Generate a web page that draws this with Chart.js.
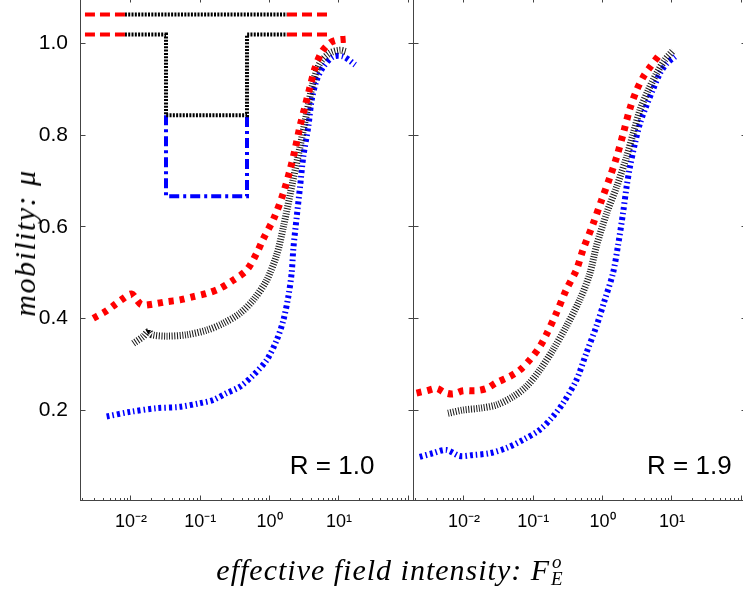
<!DOCTYPE html>
<html>
<head>
<meta charset="utf-8">
<script src="https://cdn.jsdelivr.net/npm/chart.js@4.4.1/dist/chart.umd.min.js"></script>
<style>
  html, body { margin: 0; padding: 0; background: #fff; }
  body { position: relative; width: 743px; height: 592px; overflow: hidden; }
  canvas { position: absolute; left: 0; top: -20px; }
  .xtitle { position: absolute; left: 0; width: 780px; top: 552px; line-height: 36px; text-align: center;
            font-family: 'Liberation Serif', 'DejaVu Serif', serif; font-style: italic; font-size: 30px;
            letter-spacing: 1px; white-space: nowrap; }
  .ss { display: inline-flex; flex-direction: column; font-size: 19px; line-height: 17px; vertical-align: 12px; margin-left: 1px; }
  .ytitle { position: absolute; left: 25px; top: 243px; transform: translate(-50%, -50%) rotate(-90deg);
            font-family: 'Liberation Serif', 'DejaVu Serif', serif; font-style: italic; font-size: 30px;
            letter-spacing: 1.5px; white-space: nowrap; }
</style>
</head>
<body>
<canvas id="left" width="760" height="612"></canvas>
<canvas id="right" width="760" height="612"></canvas>
<div class="ytitle">mobility: μ</div>
<div class="xtitle">effective field intensity: F<span class="ss"><span>o</span><span>E</span></span></div>
<script>
// axis ticks
const muTicks = [0.2, 0.4, 0.6, 0.8, 1.0];
const fTicks = [0.01, 0.1, 1, 10];
const fTickText = ['10⁻²', '10⁻¹', '10⁰', '10¹'];

// R = 1.0
const r10RedF = [0.00286, 0.00422, 0.00556, 0.00775, 0.0102, 0.0121, 0.0143, 0.021, 0.0327, 0.0509, 0.0793, 0.124, 0.192, 0.299, 0.467, 0.652, 0.811, 1.17, 1.58, 1.97, 2.32, 2.75, 3.24, 3.83, 4.52, 5.65, 7.45, 9.4, 12.9];
const r10RedMu = [0.401, 0.415, 0.428, 0.444, 0.454, 0.441, 0.430, 0.432, 0.437, 0.441, 0.448, 0.455, 0.466, 0.484, 0.506, 0.543, 0.574, 0.621, 0.674, 0.724, 0.768, 0.820, 0.862, 0.905, 0.946, 0.981, 1.001, 1.007, 1.009];
const r10BlackF = [0.0108, 0.0150, 0.0178, 0.0199, 0.0327, 0.0637, 0.124, 0.215, 0.374, 0.582, 0.908, 1.27, 1.58, 2.18, 2.75, 3.43, 4.23, 5.33, 7.45, 10.4, 12.9];
const r10BlackMu = [0.346, 0.361, 0.372, 0.365, 0.362, 0.365, 0.375, 0.390, 0.412, 0.441, 0.484, 0.540, 0.600, 0.702, 0.775, 0.848, 0.914, 0.957, 0.979, 0.985, 0.982];
const r10BlueF = [0.00446, 0.00969, 0.0235, 0.0509, 0.0991, 0.154, 0.240, 0.374, 0.582, 0.908, 1.27, 1.58, 1.86, 2.08, 2.20, 2.46, 2.75, 3.06, 3.61, 4.05, 4.78, 5.96, 8.3, 11.6, 17.1];
const r10BlueMu = [0.187, 0.197, 0.205, 0.208, 0.216, 0.223, 0.238, 0.252, 0.277, 0.310, 0.354, 0.397, 0.448, 0.500, 0.553, 0.622, 0.688, 0.753, 0.818, 0.877, 0.920, 0.949, 0.971, 0.971, 0.953];

// R = 1.9
const r19RedF = [0.00207, 0.0029, 0.00404, 0.00526, 0.00693, 0.00969, 0.0150, 0.0212, 0.0296, 0.0456, 0.0637, 0.0887, 0.124, 0.154, 0.215, 0.299, 0.418, 0.521, 0.735, 0.970, 1.28, 1.60, 1.99, 2.48, 3.10, 3.87, 4.83, 6.74];
const r19RedMu = [0.238, 0.243, 0.248, 0.239, 0.236, 0.243, 0.243, 0.248, 0.261, 0.274, 0.288, 0.310, 0.339, 0.365, 0.412, 0.463, 0.506, 0.550, 0.608, 0.659, 0.709, 0.753, 0.804, 0.858, 0.898, 0.927, 0.948, 0.977];
const r19BlackF = [0.00588, 0.00969, 0.0169, 0.0293, 0.0509, 0.0793, 0.124, 0.192, 0.299, 0.467, 0.650, 0.820, 1.145, 1.60, 2.22, 2.77, 3.47, 4.56, 6.04, 7.94, 10.5];
const r19BlackMu = [0.194, 0.201, 0.205, 0.212, 0.230, 0.252, 0.288, 0.332, 0.383, 0.441, 0.497, 0.560, 0.630, 0.688, 0.753, 0.804, 0.855, 0.898, 0.935, 0.964, 0.985];
const r19BlueF = [0.00230, 0.00357, 0.00556, 0.00867, 0.0135, 0.0235, 0.0407, 0.0710, 0.124, 0.192, 0.269, 0.418, 0.582, 0.811, 1.074, 1.41, 1.67, 1.97, 2.22, 2.48, 2.93, 3.47, 4.23, 5.28, 6.74, 8.41, 11.1];
const r19BlueMu = [0.099, 0.107, 0.114, 0.101, 0.103, 0.107, 0.118, 0.136, 0.158, 0.187, 0.216, 0.266, 0.325, 0.383, 0.441, 0.499, 0.560, 0.630, 0.688, 0.731, 0.782, 0.826, 0.862, 0.898, 0.935, 0.956, 0.971];

// key drawn in the top-left corner of the R = 1.0 panel
const keyF = [0.00217, 0.00818, 0.0320, 0.472, 1.78, 6.97];
const keyMu = [1.063, 1.019, 0.843, 0.667];

const pts = (xs, ys) => xs.map((x, i) => ({ x, y: ys[i] }));

const redCurve = { borderColor: '#ff0000', borderWidth: 7, borderDash: [5, 6] };
const blackCurve = { borderColor: '#1a1a1a', borderWidth: 7, borderDash: [1, 1.6] };
const blueCurve = { borderColor: '#0000ff', borderWidth: 6, borderDash: [3, 3, 1.5, 3] };
const redKey = { borderColor: '#ff0000', borderWidth: 4, borderDash: [10, 5] };
const blackKey = { borderColor: '#000000', borderWidth: 4, borderDash: [2, 1.3] };
const blueKey = { borderColor: '#0000ff', borderWidth: 4, borderDash: [10, 4, 3, 4] };

function curve(xs, ys, style) {
  return Object.assign({ data: pts(xs, ys), tension: 0.3, pointRadius: 0, fill: false }, style);
}
function path(xs, ys, style) {
  return Object.assign({ data: pts(xs, ys), tension: 0, pointRadius: 0, fill: false }, style);
}

const [k0, k1, k2, k3, k4, k5] = keyF;
const [muTop, muMid, muStep, muLow] = keyMu;
const keySets = [
  path([k0, k1], [muTop, muTop], redKey),
  path([k4, k5], [muTop, muTop], redKey),
  path([k0, k1], [muMid, muMid], redKey),
  path([k4, k5], [muMid, muMid], redKey),
  path([k1, k4], [muTop, muTop], blackKey),
  path([k1, k2, k2, k3, k3, k4], [muMid, muMid, muStep, muStep, muMid, muMid], blackKey),
  path([k2, k2, k3, k3], [muStep, muLow, muLow, muStep], blueKey)
];

// small marker on the kink of the black R = 1.0 curve
const r10Black = curve(r10BlackF, r10BlackMu, blackCurve);
r10Black.pointRadius = r10BlackF.map((f, i) => (i === 2 ? 3 : 0));
r10Black.pointStyle = 'triangle';
r10Black.rotation = 180;
r10Black.pointBackgroundColor = '#000';
r10Black.pointBorderWidth = 0;

// frame, inward ticks and the R label
const frame = {
  id: 'frame',
  afterDraw(chart, args, opts) {
    const { ctx, chartArea: a, scales: { x, y } } = chart;
    const L = Math.floor(a.left) + 0.5, R = Math.floor(a.right) + 0.5;
    const T = Math.floor(a.top) + 0.5, B = Math.floor(a.bottom) + 0.5;
    ctx.save();
    ctx.strokeStyle = '#444';
    ctx.lineWidth = 1;
    ctx.strokeRect(L, T, R - L, B - T);
    ctx.beginPath();
    for (let e = -3; e <= 2; e++) {
      for (let m = 1; m < 10; m++) {
        const v = m * Math.pow(10, e);
        if (v < x.min || v > x.max) continue;
        const px = Math.floor(x.getPixelForValue(v)) + 0.5;
        const len = m === 1 ? 5 : 2.5;
        ctx.moveTo(px, B); ctx.lineTo(px, B - len);
        ctx.moveTo(px, T); ctx.lineTo(px, T + len);
      }
    }
    for (const v of muTicks) {
      const py = Math.floor(y.getPixelForValue(v)) + 0.5;
      ctx.moveTo(L, py); ctx.lineTo(L + 5, py);
      ctx.moveTo(R, py); ctx.lineTo(R - 5, py);
    }
    ctx.stroke();
    ctx.fillStyle = '#000';
    ctx.font = '26px "Liberation Sans"';
    ctx.textBaseline = 'alphabetic';
    ctx.fillText(opts.label, a.left + opts.at * (a.right - a.left), a.bottom - 26);
    ctx.restore();
  }
};

function panel(id, datasets, label, at, showMu) {
  new Chart(document.getElementById(id), {
    type: 'line',
    data: { datasets },
    options: {
      responsive: false,
      animation: false,
      events: [],
      layout: { padding: showMu ? { left: 0, right: 347, top: 17.4, bottom: 0 } : { left: 413, right: 14, top: 17.4, bottom: 0 } },
      plugins: { legend: { display: false }, tooltip: { enabled: false }, frame: { label, at } },
      scales: {
        x: {
          type: 'logarithmic', min: 0.00184, max: 117,
          grid: { display: false }, border: { display: false },
          afterBuildTicks: s => { s.ticks = fTicks.map(value => ({ value })); },
          afterFit: s => { s.height = 92; },
          ticks: {
            autoSkip: false, maxRotation: 0, padding: 3, color: '#000',
            font: { family: 'Liberation Sans', size: 18 },
            callback: v => fTickText[Math.round(Math.log10(v)) + 2]
          }
        },
        y: {
          type: 'linear', min: 0.005, max: 1.1, display: showMu,
          grid: { display: false }, border: { display: false },
          afterBuildTicks: s => { s.ticks = muTicks.map(value => ({ value })); },
          afterFit: s => { s.width = showMu ? 80 : 0; },
          ticks: { padding: 4, color: '#000', font: { family: 'Liberation Sans', size: 21 }, callback: v => v.toFixed(1) }
        }
      }
    },
    plugins: [frame]
  });
}

panel('left', [
  curve(r10RedF, r10RedMu, redCurve),
  r10Black,
  curve(r10BlueF, r10BlueMu, blueCurve),
  ...keySets
], 'R = 1.0', 0.63, true);

panel('right', [
  curve(r19RedF, r19RedMu, redCurve),
  curve(r19BlackF, r19BlackMu, blackCurve),
  curve(r19BlueF, r19BlueMu, blueCurve)
], 'R = 1.9', 0.703, false);
</script>
</body>
</html>
